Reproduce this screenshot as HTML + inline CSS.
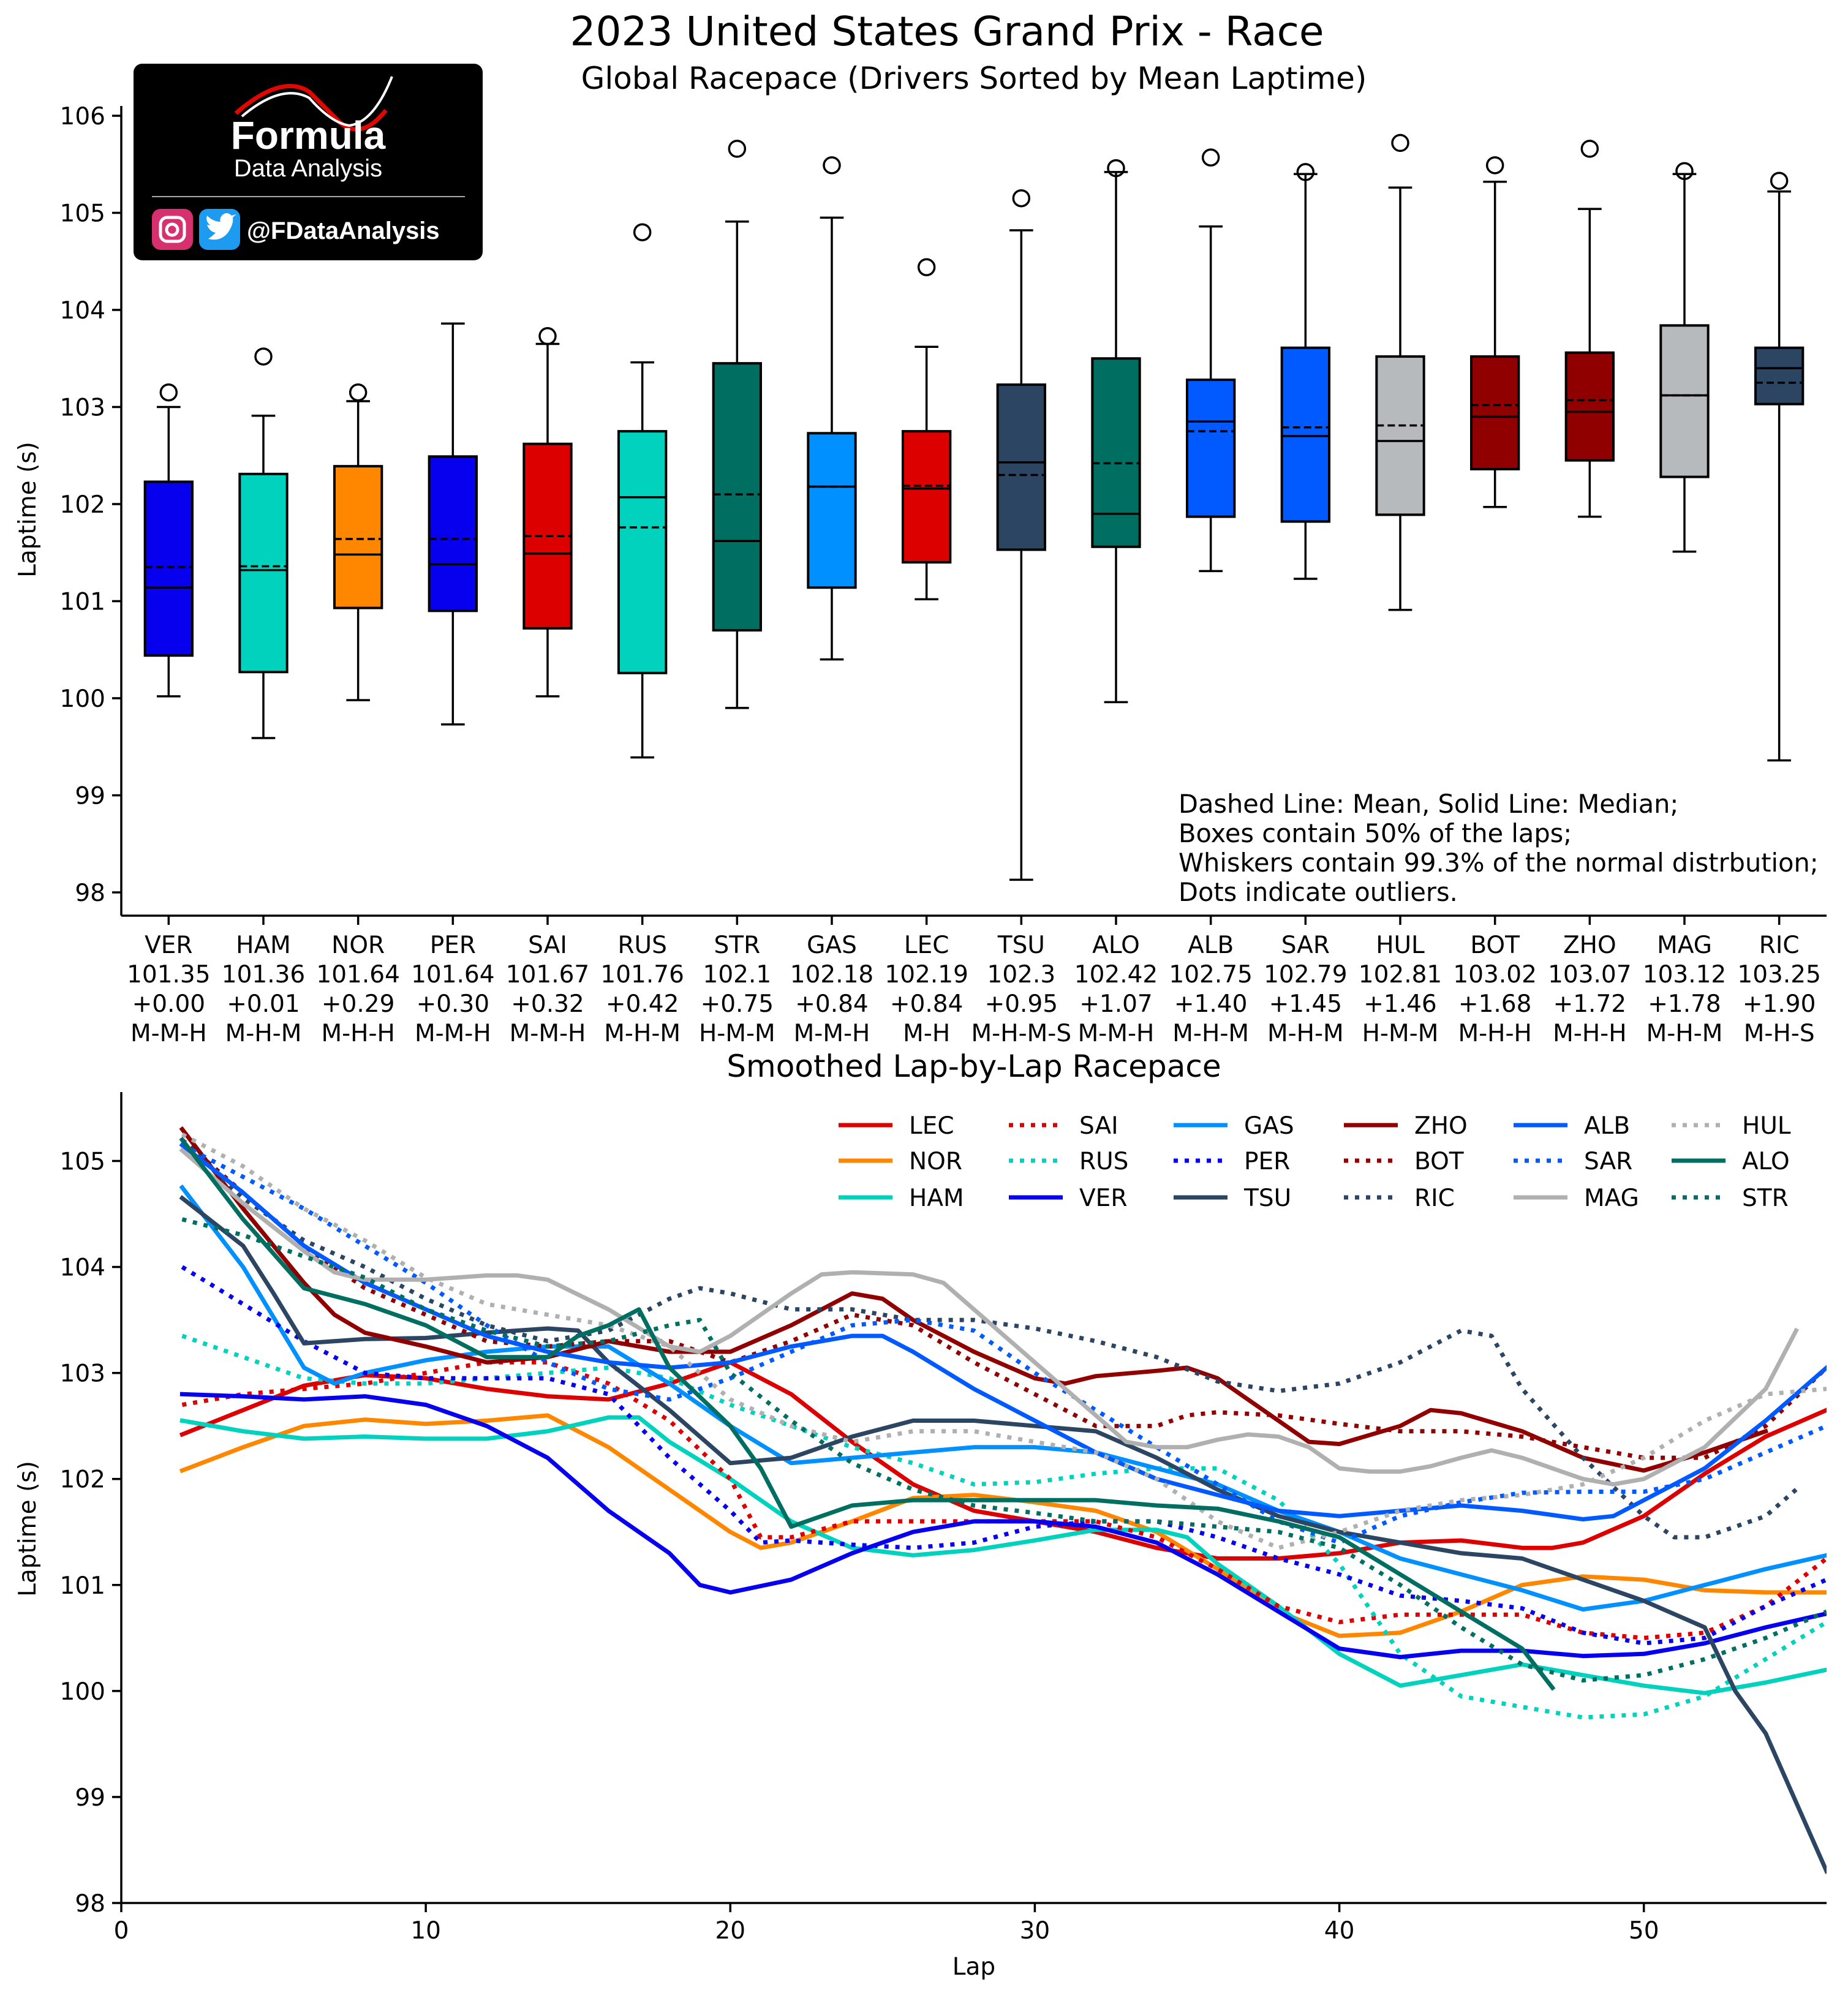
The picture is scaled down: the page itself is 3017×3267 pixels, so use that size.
<!DOCTYPE html>
<html><head><meta charset="utf-8"><style>
html,body{margin:0;padding:0;background:#fff;}
svg{display:block;font-family:"DejaVu Sans","Liberation Sans",sans-serif;}
</style></head><body>
<svg id="chart" width="3017" height="3267" viewBox="0 0 3017 3267" xmlns="http://www.w3.org/2000/svg">
<rect width="3017" height="3267" fill="#fff"/>
<text x="1546" y="74" font-size="66" text-anchor="middle">2023 United States Grand Prix - Race</text>
<text x="1590" y="145" font-size="50" text-anchor="middle">Global Racepace (Drivers Sorted by Mean Laptime)</text>
<g>
<rect x="218" y="104" width="570" height="321" rx="14" fill="#000"/>
<path d="M385 185 Q460 120 505 150 Q535 180 555 200 Q590 230 630 180" stroke="#e10600" stroke-width="7" fill="none"/>
<path d="M395 190 Q460 135 505 160 Q540 200 570 205 Q610 200 640 125" stroke="#fff" stroke-width="4" fill="none"/>
<text x="503" y="243" font-size="64" font-weight="bold" fill="#fff" text-anchor="middle" font-family="Liberation Sans, sans-serif">Formula</text>
<text x="503" y="288" font-size="40" fill="#fff" text-anchor="middle" font-family="Liberation Sans, sans-serif">Data Analysis</text>
<line x1="248" y1="321" x2="759" y2="321" stroke="#aaa" stroke-width="2"/>
<rect x="248" y="341" width="67" height="67" rx="14" fill="#d6306e"/>
<rect x="262" y="355" width="39" height="39" rx="11" fill="none" stroke="#fff" stroke-width="5"/>
<circle cx="281" cy="375" r="9" fill="none" stroke="#fff" stroke-width="5"/>
<rect x="325" y="341" width="67" height="67" rx="14" fill="#1d9bf0"/>
<path d="M340 390 Q360 395 372 380 Q382 365 380 355 L386 350 L378 352 Q370 344 362 352 Q358 358 360 362 Q348 362 338 352 Q335 362 344 368 L338 367 Q342 378 352 380 Q346 386 340 390Z" fill="#fff"/>
<text x="403" y="390" font-size="40" font-weight="bold" fill="#fff" font-family="Liberation Sans, sans-serif">@FDataAnalysis</text>
</g>
<g id="topchart"></g>
<g id="bottomchart"></g>
</svg>
<script>
const NS='http://www.w3.org/2000/svg';
// ---- Top chart data ----
const drivers=['VER','HAM','NOR','PER','SAI','RUS','STR','GAS','LEC','TSU','ALO','ALB','SAR','HUL','BOT','ZHO','MAG','RIC'];
const meanVals=[101.35,101.36,101.64,101.64,101.67,101.76,102.1,102.18,102.19,102.3,102.42,102.75,102.79,102.81,103.02,103.07,103.12,103.25];
const medianVals=[101.14,101.32,101.48,101.38,101.49,102.07,101.62,102.18,102.16,102.43,101.9,102.85,102.7,102.65,102.9,102.95,103.12,103.4];
const q1Vals=[100.44,100.27,100.93,100.9,100.72,100.26,100.7,101.14,101.4,101.53,101.56,101.87,101.82,101.89,102.36,102.45,102.28,103.03];
const q3Vals=[102.23,102.31,102.39,102.49,102.62,102.75,103.45,102.73,102.75,103.23,103.5,103.28,103.61,103.52,103.52,103.56,103.84,103.61];
const whiskLo=[100.02,99.59,99.98,99.73,100.02,99.39,99.9,100.4,101.02,98.13,99.96,101.31,101.23,100.91,101.97,101.87,101.51,99.36];
const whiskHi=[103.0,102.91,103.06,103.86,103.65,103.46,104.91,104.95,103.62,104.82,105.42,104.86,105.4,105.26,105.32,105.04,105.4,105.22];
const outlierVals=[103.15,103.52,103.15,null,103.73,104.8,105.66,105.49,104.44,105.15,105.46,105.57,105.42,105.72,105.49,105.66,105.43,105.33];
const gapLabels=['+0.00','+0.01','+0.29','+0.30','+0.32','+0.42','+0.75','+0.84','+0.84','+0.95','+1.07','+1.40','+1.45','+1.46','+1.68','+1.72','+1.78','+1.90'];
const meanLabels=['101.35','101.36','101.64','101.64','101.67','101.76','102.1','102.18','102.19','102.3','102.42','102.75','102.79','102.81','103.02','103.07','103.12','103.25'];
const stratLabels=['M-M-H','M-H-M','M-H-H','M-M-H','M-M-H','M-H-M','H-M-M','M-M-H','M-H','M-H-M-S','M-M-H','M-H-M','M-H-M','H-M-M','M-H-H','M-H-H','M-H-M','M-H-S'];
const boxColors=['#0600ef','#00d2be','#ff8700','#0600ef','#dc0000','#00d2be','#006f62','#0090ff','#dc0000','#2b4562','#006f62','#005aff','#005aff','#b6babd','#900000','#900000','#b6babd','#2b4562'];
const topTicks=[98,99,100,101,102,103,104,105,106];

// ---- Bottom chart data ----
const lecLaps=[2,4,6,8,10,12,14,16,18,20,22,24,26,28,30,32,34,36,38,40,42,44,46,47,48,50,52,54,56];
const lecVals=[102.42,102.65,102.88,102.98,102.95,102.85,102.78,102.75,102.9,103.1,102.8,102.35,101.95,101.7,101.6,101.5,101.35,101.25,101.25,101.3,101.4,101.42,101.35,101.35,101.4,101.65,102.05,102.4,102.65];
const norLaps=[2,4,6,8,10,12,14,16,18,20,21,22,24,26,28,30,32,34,36,38,40,42,44,46,48,50,52,54,56];
const norVals=[102.08,102.3,102.5,102.56,102.52,102.55,102.6,102.3,101.9,101.5,101.35,101.4,101.6,101.82,101.85,101.78,101.7,101.5,101.15,100.75,100.52,100.55,100.75,101.0,101.08,101.05,100.95,100.93,100.93];
const hamLaps=[2,4,6,8,10,12,14,16,17,18,20,22,24,26,28,30,32,34,35,36,38,40,42,44,46,48,50,52,54,56];
const hamVals=[102.55,102.45,102.38,102.4,102.38,102.38,102.45,102.58,102.58,102.35,102.0,101.6,101.35,101.28,101.33,101.42,101.52,101.52,101.45,101.2,100.8,100.35,100.05,100.15,100.25,100.15,100.05,99.98,100.08,100.2];
const saiLaps=[2,4,6,8,10,12,14,16,18,20,21,22,24,26,28,30,32,34,36,38,40,42,44,46,48,50,52,54,56];
const saiVals=[102.7,102.8,102.85,102.9,103.0,103.1,103.1,102.9,102.55,102.0,101.45,101.45,101.6,101.6,101.6,101.6,101.6,101.45,101.15,100.8,100.65,100.72,100.72,100.72,100.55,100.5,100.55,100.8,101.25];
const rusLaps=[2,4,6,8,10,12,14,16,18,20,22,24,26,28,30,32,34,36,38,40,42,44,46,48,50,52,54,56];
const rusVals=[103.35,103.15,102.95,102.9,102.9,102.95,103.0,103.05,102.95,102.7,102.5,102.3,102.15,101.95,101.97,102.05,102.1,102.1,101.8,101.2,100.35,99.95,99.85,99.75,99.78,99.95,100.3,100.65];
const verLaps=[2,4,6,8,10,12,14,16,18,19,20,22,24,26,28,30,32,34,36,38,40,42,44,46,48,50,52,54,56];
const verVals=[102.8,102.78,102.75,102.78,102.7,102.5,102.2,101.7,101.3,101.0,100.93,101.05,101.3,101.5,101.6,101.6,101.55,101.4,101.1,100.75,100.4,100.32,100.38,100.38,100.33,100.35,100.45,100.6,100.73];
const gasLaps=[2,4,6,7,8,10,12,14,16,18,20,22,24,26,28,30,32,34,36,38,40,42,44,46,48,50,52,54,56];
const gasVals=[104.75,104.0,103.05,102.9,103.0,103.12,103.2,103.25,103.25,102.9,102.5,102.15,102.2,102.25,102.3,102.3,102.25,102.1,101.95,101.7,101.5,101.25,101.1,100.95,100.77,100.85,101.0,101.15,101.28];
const perLaps=[2,4,6,8,10,12,14,16,18,20,21,22,24,26,28,30,32,34,36,38,40,42,44,46,48,50,52,54,56];
const perVals=[104.0,103.65,103.3,103.0,102.95,102.95,102.95,102.8,102.2,101.7,101.4,101.42,101.38,101.35,101.4,101.55,101.6,101.6,101.45,101.25,101.1,100.9,100.85,100.78,100.55,100.45,100.5,100.8,101.05];
const tsuLaps=[2,4,5,6,8,10,12,14,15,16,18,20,22,24,26,28,30,32,34,36,38,40,42,44,46,48,50,52,53,54,56];
const tsuVals=[104.65,104.2,103.75,103.28,103.32,103.33,103.38,103.42,103.4,103.1,102.65,102.15,102.2,102.4,102.55,102.55,102.5,102.45,102.2,101.9,101.65,101.5,101.4,101.3,101.25,101.05,100.85,100.6,100.0,99.6,98.3];
const zhoLaps=[2,4,6,7,8,10,12,14,16,18,20,22,24,25,26,28,30,31,32,34,35,36,38,39,40,42,43,44,46,48,50,52,54];
const zhoVals=[105.3,104.55,103.85,103.55,103.38,103.25,103.1,103.15,103.3,103.2,103.2,103.45,103.75,103.7,103.5,103.2,102.95,102.9,102.97,103.02,103.05,102.95,102.55,102.35,102.33,102.5,102.65,102.62,102.45,102.2,102.08,102.25,102.45];
const botLaps=[2,4,6,8,10,12,14,16,18,20,22,24,26,28,30,32,34,35,36,38,40,42,44,46,48,50,52,54,56];
const botVals=[105.2,104.7,104.2,103.8,103.55,103.3,103.25,103.3,103.3,103.1,103.3,103.55,103.45,103.1,102.8,102.5,102.5,102.6,102.63,102.6,102.52,102.45,102.45,102.4,102.3,102.2,102.2,102.5,103.05];
const ricLaps=[2,4,6,8,10,12,14,16,18,19,20,22,24,26,28,30,32,34,36,38,40,42,44,45,46,48,50,51,52,54,55];
const ricVals=[105.2,104.65,104.25,104.0,103.7,103.45,103.3,103.4,103.7,103.8,103.75,103.6,103.6,103.5,103.5,103.42,103.3,103.15,102.92,102.83,102.9,103.1,103.4,103.35,102.85,102.2,101.65,101.45,101.45,101.65,101.9];
const albLaps=[2,4,6,8,10,12,14,16,18,20,22,24,25,26,28,30,32,34,36,38,40,42,44,46,48,49,50,52,54,56];
const albVals=[105.15,104.7,104.2,103.85,103.6,103.35,103.2,103.1,103.05,103.1,103.25,103.35,103.35,103.2,102.85,102.55,102.25,102.0,101.85,101.7,101.65,101.7,101.75,101.7,101.62,101.65,101.8,102.1,102.55,103.05];
const sarLaps=[2,4,6,8,10,12,14,16,18,20,22,24,26,28,30,32,34,36,38,40,42,44,46,48,50,52,54,56];
const sarVals=[105.15,104.85,104.55,104.2,103.85,103.45,103.1,102.85,102.75,102.95,103.2,103.45,103.5,103.4,103.0,102.65,102.3,101.95,101.6,101.4,101.65,101.78,101.87,101.88,101.88,102.0,102.25,102.5];
const magLaps=[2,4,6,7,8,10,12,13,14,16,18,19,20,22,23,24,26,27,28,30,32,33,34,35,36,37,38,39,40,41,42,43,44,45,46,48,49,50,52,54,55];
const magVals=[105.1,104.6,104.15,103.95,103.88,103.88,103.92,103.92,103.88,103.6,103.25,103.2,103.35,103.75,103.93,103.95,103.93,103.85,103.6,103.1,102.6,102.35,102.3,102.3,102.37,102.42,102.4,102.3,102.1,102.07,102.07,102.12,102.2,102.27,102.2,102.0,101.95,102.0,102.3,102.85,103.4];
const hulLaps=[2,4,6,8,10,12,14,16,18,20,22,24,26,28,30,32,34,36,38,40,42,44,46,48,50,52,54,56];
const hulVals=[105.25,104.95,104.55,104.25,103.9,103.65,103.55,103.45,103.25,102.75,102.5,102.35,102.45,102.45,102.35,102.25,102.0,101.6,101.35,101.5,101.7,101.8,101.85,101.95,102.2,102.55,102.8,102.85];
const aloLaps=[2,4,6,8,10,12,14,15,16,17,18,20,21,22,24,26,28,30,32,34,36,38,40,42,44,46,47];
const aloVals=[105.2,104.45,103.8,103.65,103.45,103.15,103.15,103.35,103.45,103.6,103.05,102.5,102.1,101.55,101.75,101.8,101.8,101.8,101.8,101.75,101.72,101.6,101.45,101.1,100.75,100.4,100.03];
const strLaps=[2,4,6,8,10,12,14,16,18,19,20,22,24,26,28,30,32,34,36,38,40,42,44,46,48,50,52,54,56];
const strVals=[104.45,104.3,104.1,103.9,103.6,103.4,103.25,103.3,103.45,103.5,103.0,102.55,102.15,101.9,101.75,101.68,101.6,101.6,101.55,101.5,101.35,101.0,100.6,100.25,100.1,100.15,100.3,100.5,100.75];
const xTicks=[0,10,20,30,40,50];
const yTicks=[98,99,100,101,102,103,104,105];

const FS=39;
function el(tag,attrs,parent,txt){const e=document.createElementNS(NS,tag);for(const k in attrs)e.setAttribute(k,attrs[k]);if(txt!==undefined)e.textContent=txt;parent.appendChild(e);return e;}

const topG=document.getElementById('topchart');
const TL=198,TR=2982,TT=173,TB=1495;
const ty=v=>189+(106-v)*158.5;
const tx=i=>TL+(i+0.5)*(TR-TL)/drivers.length;
const bw=(TR-TL)/drivers.length*0.5;
const SW=3.5;
let a=el('line',{x1:TL,y1:TT,x2:TL,y2:TB,stroke:'#000','stroke-width':SW},topG);


a=el('line',{x1:TL,y1:TB,x2:TR,y2:TB,stroke:'#000','stroke-width':SW},topG);


topTicks.forEach(t=>{el('line',{x1:TL-15,y1:ty(t),x2:TL,y2:ty(t),stroke:'#000','stroke-width':SW},topG);
 const l=el('text',{x:TL-26,y:ty(t)+14,'font-size':FS,'text-anchor':'end'},topG,String(t));
 
 });
a=el('text',{x:58,y:832,'font-size':FS,'text-anchor':'middle',transform:'rotate(-90 58 832)'},topG,'Laptime (s)');


drivers.forEach((d,i)=>{
 const cx=tx(i);
 const g=el('g',{},topG);
 
 
 el('line',{x1:cx,y1:ty(whiskHi[i]),x2:cx,y2:ty(q3Vals[i]),stroke:'#000','stroke-width':SW},g);
 el('line',{x1:cx,y1:ty(whiskLo[i]),x2:cx,y2:ty(q1Vals[i]),stroke:'#000','stroke-width':SW},g);
 el('line',{x1:cx-bw/4,y1:ty(whiskHi[i]),x2:cx+bw/4,y2:ty(whiskHi[i]),stroke:'#000','stroke-width':SW},g);
 el('line',{x1:cx-bw/4,y1:ty(whiskLo[i]),x2:cx+bw/4,y2:ty(whiskLo[i]),stroke:'#000','stroke-width':SW},g);
 el('rect',{x:cx-bw/2,y:ty(q3Vals[i]),width:bw,height:ty(q1Vals[i])-ty(q3Vals[i]),fill:boxColors[i],stroke:'#000','stroke-width':SW+0.5},g);
 el('line',{x1:cx-bw/2,y1:ty(medianVals[i]),x2:cx+bw/2,y2:ty(medianVals[i]),stroke:'#000','stroke-width':SW},g);
 el('line',{x1:cx-bw/2,y1:ty(meanVals[i]),x2:cx+bw/2,y2:ty(meanVals[i]),stroke:'#000','stroke-width':SW,'stroke-dasharray':'12 6'},g);
 if(outlierVals[i]!==null){const c=el('circle',{cx:cx,cy:ty(outlierVals[i]),r:13,fill:'none',stroke:'#000','stroke-width':SW},g);
  
  }
 el('line',{x1:cx,y1:TB,x2:cx,y2:TB+15,stroke:'#000','stroke-width':SW},topG);
 const lines=[d,meanLabels[i],gapLabels[i],stratLabels[i]];
 const t=el('text',{'font-size':FS,'text-anchor':'middle'},topG);
 
 
 lines.forEach((s,k)=>el('tspan',{x:cx,y:1556+k*48},t,s));
});
const noteLines=['Dashed Line: Mean, Solid Line: Median;','Boxes contain 50% of the laps;','Whiskers contain 99.3% of the normal distrbution;','Dots indicate outliers.'];
const note=el('text',{'font-size':41.5},topG);


noteLines.forEach((s,k)=>el('tspan',{x:1924,y:1327+k*48},note,s));

const series=[
 ['LEC',lecLaps,lecVals,'#dc0000',false],['NOR',norLaps,norVals,'#ff8700',false],['HAM',hamLaps,hamVals,'#00d2be',false],
 ['SAI',saiLaps,saiVals,'#dc0000',true],['RUS',rusLaps,rusVals,'#00d2be',true],['VER',verLaps,verVals,'#0600ef',false],
 ['GAS',gasLaps,gasVals,'#0090ff',false],['PER',perLaps,perVals,'#0600ef',true],['TSU',tsuLaps,tsuVals,'#2b4562',false],
 ['ZHO',zhoLaps,zhoVals,'#900000',false],['BOT',botLaps,botVals,'#900000',true],['RIC',ricLaps,ricVals,'#2b4562',true],
 ['ALB',albLaps,albVals,'#005aff',false],['SAR',sarLaps,sarVals,'#005aff',true],['MAG',magLaps,magVals,'#b0b0b0',false],
 ['HUL',hulLaps,hulVals,'#b0b0b0',true],['ALO',aloLaps,aloVals,'#006f62',false],['STR',strLaps,strVals,'#006f62',true]];

const botG=document.getElementById('bottomchart');
const BL=198,BR=2982,BT=1783,BB=3107,XMAX=56,YMIN=98,YMAX=105.65;
const bx=l=>BL+l*(BR-BL)/XMAX;
const by=v=>BB-(v-YMIN)*(BB-BT)/(YMAX-YMIN);
const LW=7;
a=el('text',{x:1590,y:1758,'font-size':50,'text-anchor':'middle'},botG,'Smoothed Lap-by-Lap Racepace');


const clip=el('clipPath',{id:'bclip'},botG);el('rect',{x:BL,y:BT-10,width:BR-BL,height:BB-BT+10},clip);
const lg=el('g',{'clip-path':'url(#bclip)'},botG);
series.forEach(s=>{
 const pts=s[1].map((l,k)=>bx(l).toFixed(1)+','+by(s[2][k]).toFixed(1)).join(' ');
 const attrs={points:pts,fill:'none',stroke:s[3],'stroke-width':LW,'stroke-linejoin':'round'};
 if(s[4]){attrs['stroke-dasharray']='7 11';}else{attrs['stroke-linecap']='square';}
 const p=el('polyline',attrs,lg);
 
 
});
a=el('line',{x1:BL,y1:BT,x2:BL,y2:BB,stroke:'#000','stroke-width':SW},botG);


a=el('line',{x1:BL,y1:BB,x2:BR,y2:BB,stroke:'#000','stroke-width':SW},botG);


yTicks.forEach(t=>{el('line',{x1:BL-15,y1:by(t),x2:BL,y2:by(t),stroke:'#000','stroke-width':SW},botG);
 const l=el('text',{x:BL-26,y:by(t)+14,'font-size':FS,'text-anchor':'end'},botG,String(t));
 
 });
xTicks.forEach(t=>{el('line',{x1:bx(t),y1:BB,x2:bx(t),y2:BB+15,stroke:'#000','stroke-width':SW},botG);
 const l=el('text',{x:bx(t),y:BB+58,'font-size':FS,'text-anchor':'middle'},botG,String(t));
 
 });
a=el('text',{x:1590,y:3224,'font-size':FS,'text-anchor':'middle'},botG,'Lap');


a=el('text',{x:58,y:2496,'font-size':FS,'text-anchor':'middle',transform:'rotate(-90 58 2496)'},botG,'Laptime (s)');


const colX=[1369,1647,1916,2194,2471,2729],rowY=[1837,1895,1955];
series.forEach((s,i)=>{
 const c=Math.floor(i/3),r=i%3,x=colX[c],y=rowY[r];
 const g=el('g',{},botG);
 
 
 const attrs={x1:x,y1:y,x2:x+88,y2:y,stroke:s[3],'stroke-width':LW};
 if(s[4])attrs['stroke-dasharray']='7 11';
 el('line',attrs,g);
 el('text',{x:x+115,y:y+14,'font-size':FS},g,s[0]);
});
</script>
</body></html>
